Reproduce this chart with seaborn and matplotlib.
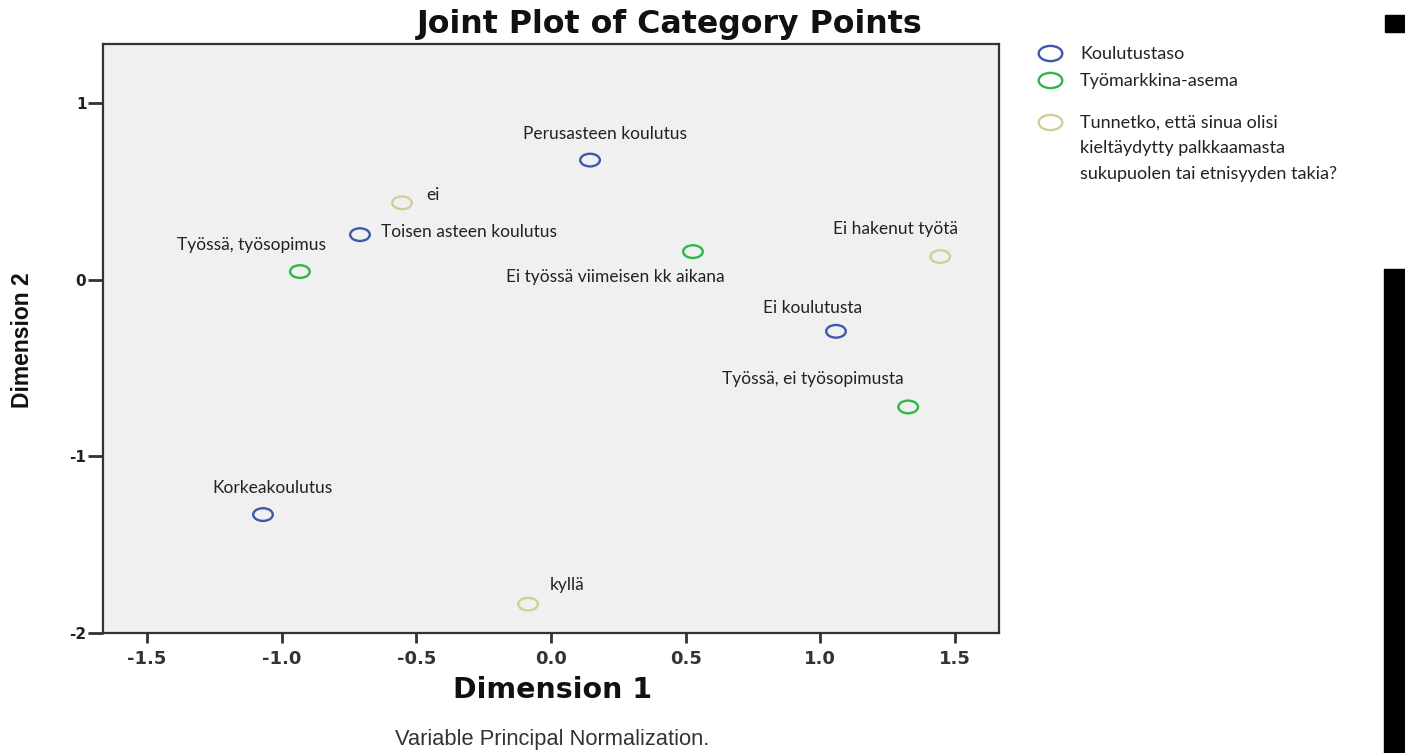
import numpy as np
import pandas as pd
import seaborn as sns
import matplotlib.pyplot as plt
from matplotlib.lines import Line2D
from matplotlib.patches import Rectangle
from matplotlib.path import Path
from matplotlib.transforms import Affine2D

# category points: (dimension 1, dimension 2)
koulutus_labels = ["Perusasteen koulutus", "Toisen asteen koulutus", "Ei koulutusta", "Korkeakoulutus"]
koulutus_dim1 = [0.145, -0.709, 1.058, -1.069]
koulutus_dim2 = [0.676, 0.254, -0.293, -1.330]

tyo_labels = ["Työssä, työsopimus", "Ei työssä viimeisen kk aikana", "Työssä, ei työsopimusta"]
tyo_dim1 = [-0.932, 0.527, 1.326]
tyo_dim2 = [0.045, 0.158, -0.721]

syrjinta_labels = ["ei", "Ei hakenut työtä", "kyllä"]
syrjinta_dim1 = [-0.553, 1.445, -0.085]
syrjinta_dim2 = [0.434, 0.130, -1.837]

group_names = ["Koulutustaso", "Työmarkkina-asema",
               "Tunnetko, että sinua olisi\nkieltäydytty palkkaamasta\nsukupuolen tai etnisyyden takia?"]
x_ticks = [-1.5, -1.0, -0.5, 0.0, 0.5, 1.0, 1.5]
y_ticks = [-2, -1, 0, 1]

df = pd.concat([
    pd.DataFrame({"dim1": koulutus_dim1, "dim2": koulutus_dim2, "label": koulutus_labels, "group": group_names[0]}),
    pd.DataFrame({"dim1": tyo_dim1, "dim2": tyo_dim2, "label": tyo_labels, "group": group_names[1]}),
    pd.DataFrame({"dim1": syrjinta_dim1, "dim2": syrjinta_dim2, "label": syrjinta_labels, "group": group_names[2]}),
], ignore_index=True)

# label offsets in points (layout only)
offsets = {
    "Perusasteen koulutus": (11, 19, "center"),
    "Toisen asteen koulutus": (15, 2, "left"),
    "Ei koulutusta": (-17, 17, "center"),
    "Korkeakoulutus": (7, 19, "center"),
    "Työssä, työsopimus": (-35, 19, "center"),
    "Ei työssä viimeisen kk aikana": (-56, -18, "center"),
    "Työssä, ei työsopimusta": (-69, 20, "center"),
    "ei": (22, 6, "center"),
    "Ei hakenut työtä": (-32, 20, "center"),
    "kyllä": (28, 14, "center"),
}

sns.set_style("ticks")
plt.rcParams["font.family"] = ["DejaVu Sans"]
palette = ["#3E58AC", "#2EB848", "#D3CE97"]
ellipse = Path.unit_circle().transformed(Affine2D().scale(1.55, 1.0))
label_font = ["Lato", "DejaVu Sans"]

f = plt.figure(figsize=(14.05, 7.53), dpi=100)
ax = f.add_axes([0.0733, 0.1594, 0.6377, 0.7822])
ax.set_facecolor("#F0F0F0")

sns.scatterplot(data=df, x="dim1", y="dim2", hue="group", hue_order=group_names,
                palette=palette, marker=ellipse, s=200, legend=False, ax=ax)
for coll in ax.collections:
    fc = coll.get_facecolors()
    coll.set_edgecolors(fc)
    coll.set_facecolors("none")
    coll.set_linewidths(1.7)

for _, row in df.iterrows():
    dx, dy, ha = offsets[row["label"]]
    ax.annotate(row["label"], (row["dim1"], row["dim2"]), xytext=(dx, dy),
                textcoords="offset points", ha=ha, va="center",
                fontsize=12.5, family=label_font, color="#222222")

ax.set_xlim(-1.663, 1.663)
ax.set_ylim(-2.0, 1.333)
ax.set_xticks(x_ticks)
ax.set_xticklabels([f"{t:.1f}" for t in x_ticks], fontsize=13, fontweight="bold", color="#333333")
ax.set_yticks(y_ticks)
ax.set_yticklabels([str(t) for t in y_ticks], fontsize=11, fontweight="bold", color="#222222")
ax.tick_params(axis="x", length=7, width=2, pad=5, color="#333333")
ax.tick_params(axis="y", length=11, width=2, pad=1, color="#333333")
ax.set_xlabel("")
ax.set_ylabel("")
for sp in ax.spines.values():
    sp.set_linewidth(1.6)
    sp.set_color("#333333")

f.text(0.4769, 0.967, "Joint Plot of Category Points", ha="center", va="center",
       fontsize=22.75, fontweight="bold", color="#111111")
f.text(0.393, 0.0837, "Dimension 1", ha="center", va="center", fontsize=20.5,
       fontweight="bold", color="#111111")
f.text(0.393, 0.0173, "Variable Principal Normalization.", ha="center", va="center",
       fontsize=15.75, color="#333333", family=["Liberation Sans", "DejaVu Sans"])
f.text(0.0157, 0.5485, "Dimension 2", ha="center", va="center", rotation=90,
       fontsize=16.5, fontweight="bold", color="#111111", family=["Liberation Sans", "DejaVu Sans"])

# legend drawn by hand so the marker sits on the first line of each entry
leg_y = [53, 80, 122]
for name, col, y in zip(group_names, palette, leg_y):
    yf = 1 - y / 753
    f.add_artist(Line2D([1050 / 1405], [yf], transform=f.transFigure, marker=ellipse,
                        markersize=17, mfc="none", mec=col, mew=1.7, linestyle="none"))
    f.text(1080 / 1405, yf + 7 / 753, name, ha="left", va="top", fontsize=13,
           family=label_font, linespacing=1.72, color="#222222")

# screen-capture bars at the right edge
f.add_artist(Rectangle((1385 / 1405, 1 - 32 / 753), 20 / 1405, 17 / 753,
                       transform=f.transFigure, color="black"))
f.add_artist(Rectangle((1384 / 1405, 0), 21 / 1405, (753 - 269) / 753,
                       transform=f.transFigure, color="black"))

f.savefig("out.png", dpi=100)
